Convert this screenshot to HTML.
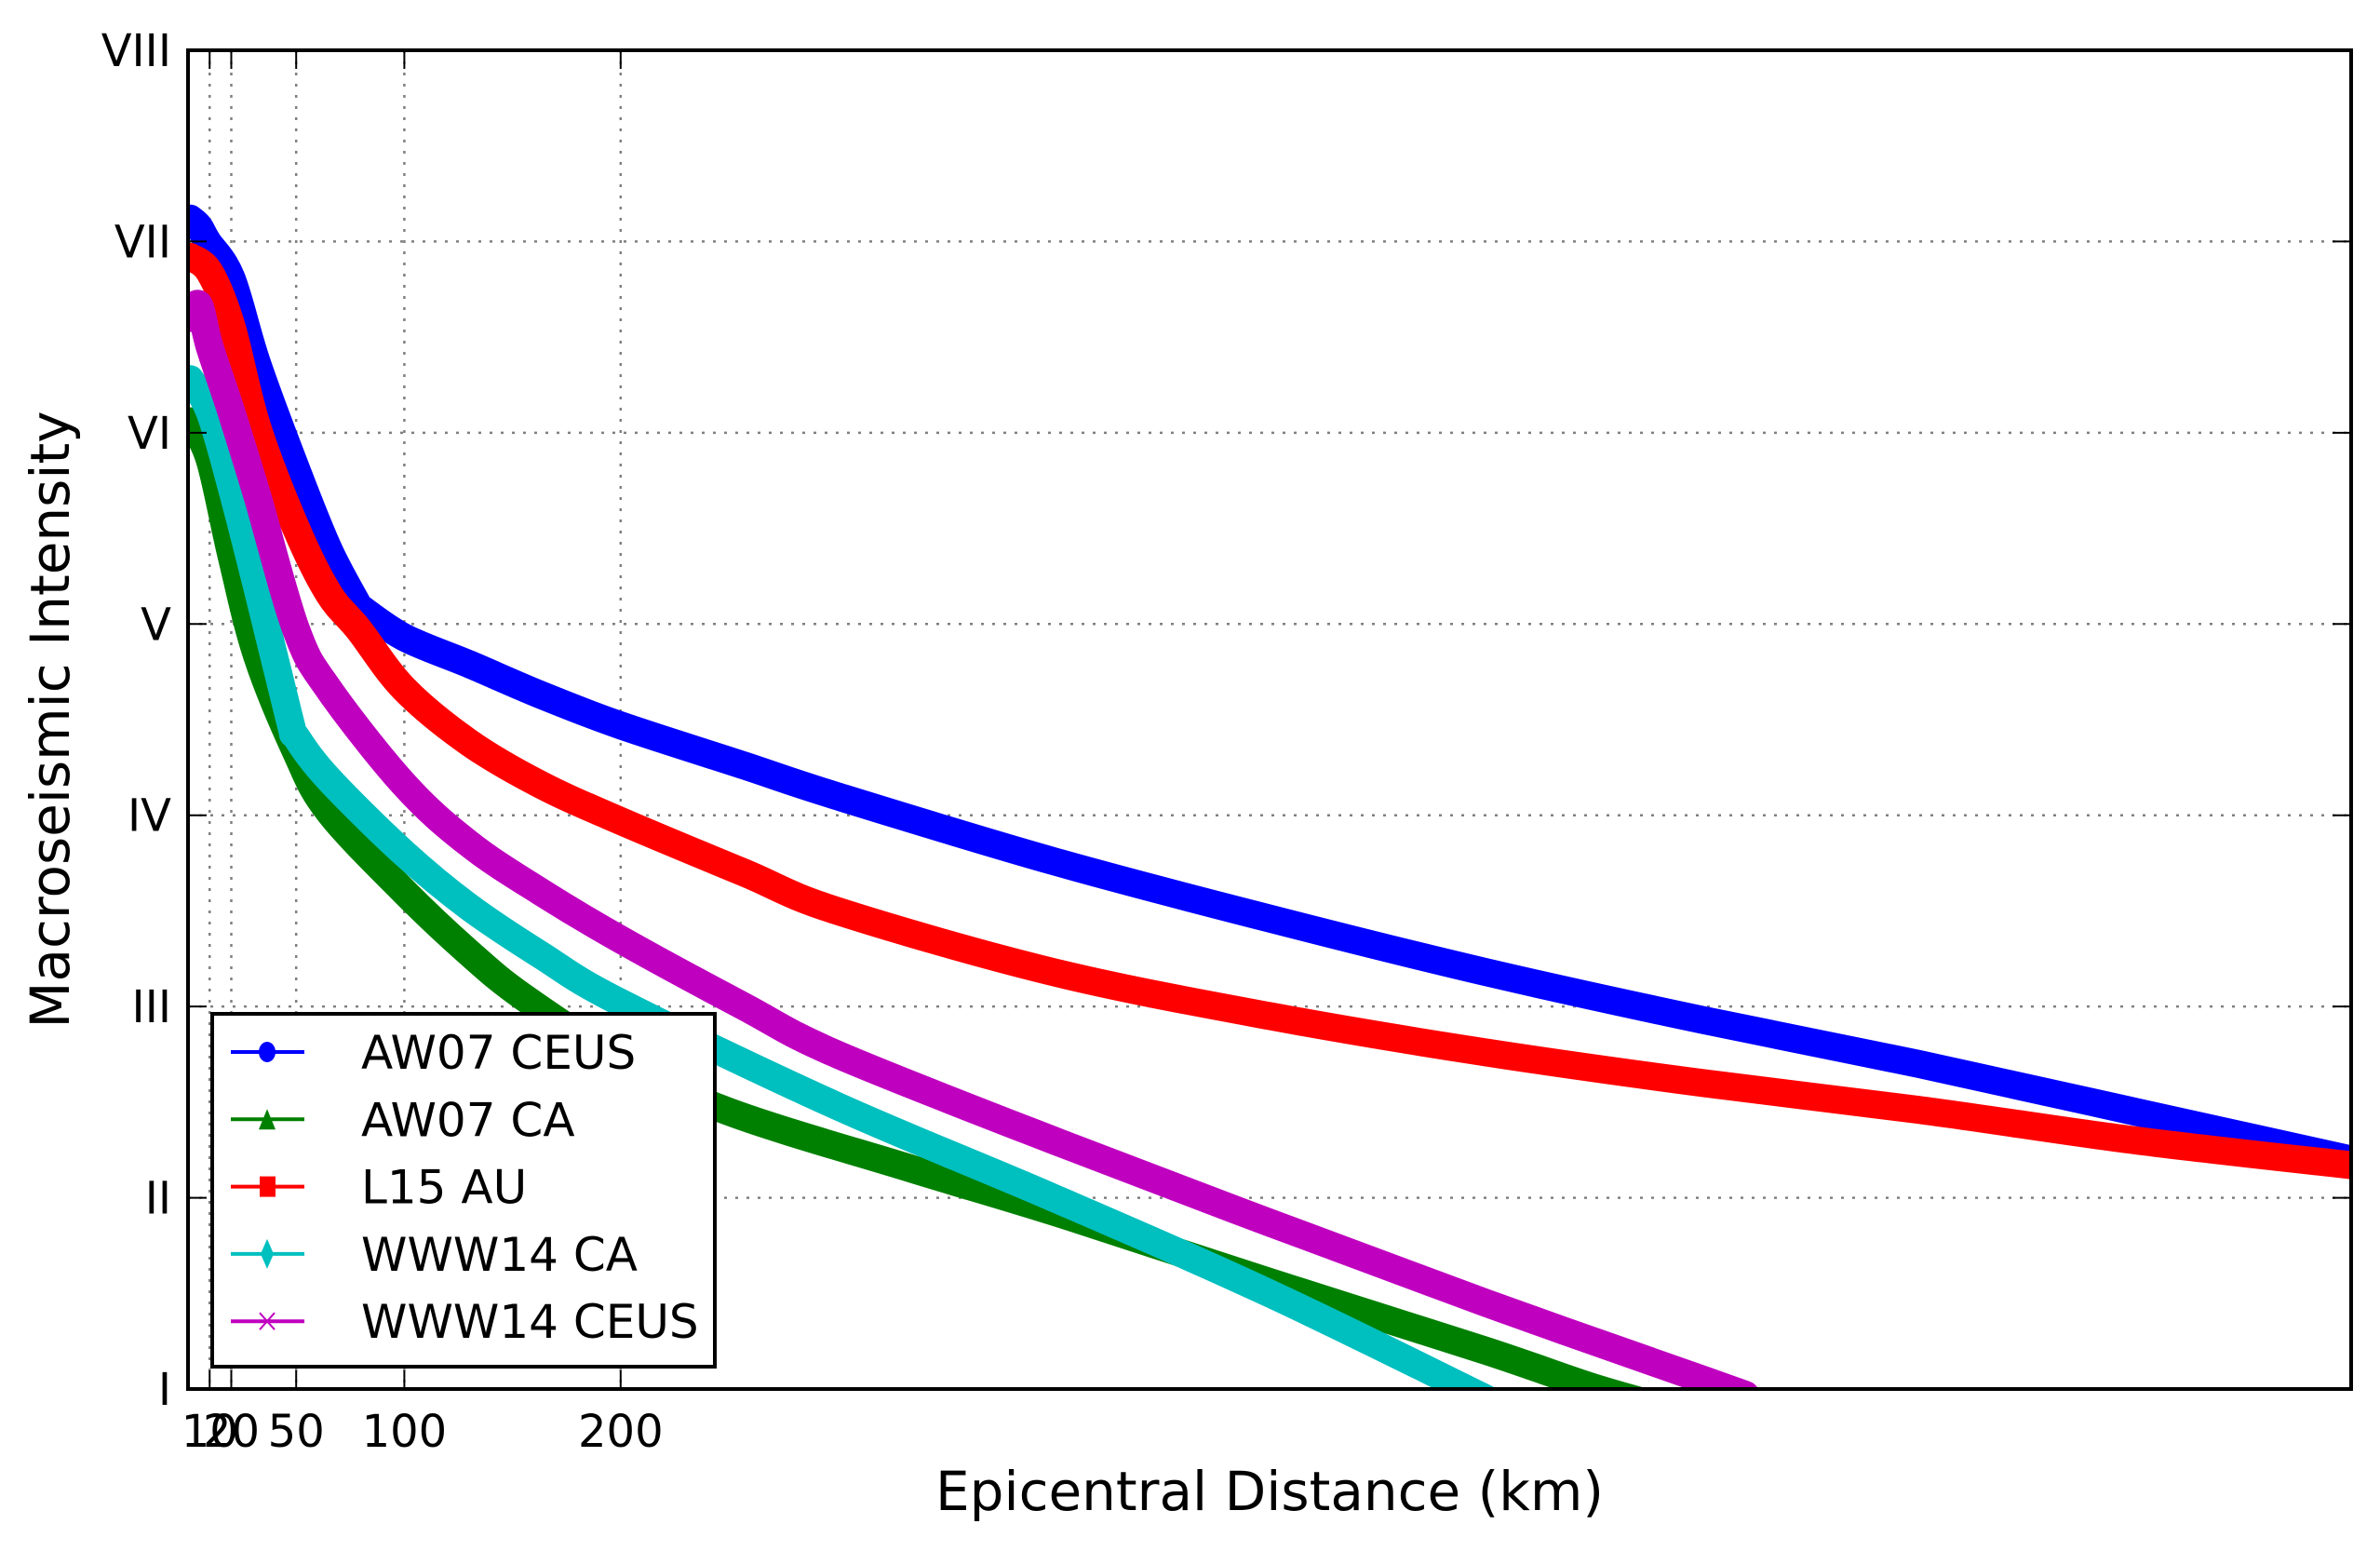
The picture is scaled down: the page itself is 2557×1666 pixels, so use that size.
<!DOCTYPE html>
<html><head><meta charset="utf-8"><style>
html,body{margin:0;padding:0;background:#fff;}
svg{display:block;font-family:"DejaVu Sans","Liberation Sans",sans-serif;}
</style></head><body>
<svg id="chart" width="2557" height="1666" viewBox="0 0 2557 1666" xmlns="http://www.w3.org/2000/svg">
<defs><clipPath id="plotclip"><rect x="202" y="54" width="2324" height="1438"/></clipPath></defs>
<g id="grid"></g>
<g id="series" clip-path="url(#plotclip)"></g>
<rect x="202" y="54" width="2324" height="1438" fill="none" stroke="#000" stroke-width="4"/>
<g id="ticks"></g>
<text x="1364" y="1622" font-size="58" text-anchor="middle">Epicentral Distance (km)</text>
<text transform="translate(74,773) rotate(-90)" font-size="58" text-anchor="middle">Macroseismic Intensity</text>
<g id="legend"></g>
</svg>
<script>
const xTicks = [10, 20, 50, 100, 200];
const xTickLabels = ["10", "20", "50", "100", "200"];
const yTicks = [1, 2, 3, 4, 5, 6, 7, 8];
const yTickLabels = ["I", "II", "III", "IV", "V", "VI", "VII", "VIII"];
const seriesNames = ["AW07 CEUS", "AW07 CA", "L15 AU", "WWW14 CA", "WWW14 CEUS"];
const seriesColors = ["#0000ff", "#008000", "#ff0000", "#00bfbf", "#bf00bf"];
const aw07ceus = [[1,7.12],[5,7.08],[9,7.0],[20,6.81],[32,6.36],[50,5.81],[65,5.39],[79,5.09],[100,4.93],[130,4.79],[163,4.63],[200,4.47],[257,4.26],[300,4.1],[400,3.76],[500,3.46],[600,3.18],[700,2.93],[800,2.7],[900,2.45],[1000,2.2]];
const aw07ca = [[1,6.06],[10,5.86],[20,5.36],[32,4.83],[50,4.33],[65,4.02],[100,3.6],[130,3.28],[155,3.05],[200,2.72],[250,2.45],[335,2.15],[405,1.91],[500,1.56],[600,1.2],[652,1.0],[700,0.85]];
const l15au = [[1,6.92],[10,6.84],[20,6.56],[32,6.03],[50,5.5],[65,5.16],[79,4.97],[100,4.66],[130,4.38],[163,4.16],[200,3.97],[257,3.70],[300,3.5],[400,3.18],[500,2.95],[600,2.76],[700,2.6],[800,2.46],[900,2.3],[1000,2.17]];
const www14ca = [[1,6.28],[10,6.11],[20,5.72],[32,5.19],[47,4.5],[50,4.41],[65,4.19],[100,3.8],[130,3.52],[163,3.27],[200,3.02],[300,2.48],[400,2.0],[500,1.5],[600,0.95]];
const www14ceus = [[1,6.6],[5,6.67],[10,6.45],[20,6.11],[32,5.67],[50,4.97],[65,4.66],[100,4.16],[130,3.85],[163,3.6],[200,3.35],[257,3.0],[300,2.75],[400,2.3],[500,1.87],[600,1.45],[700,1.05],[720,0.97]];
const allSeries = [aw07ceus, aw07ca, l15au, www14ca, www14ceus];
const kinkIndex = [7, -1, -1, -1, -1];

const X0=202, X1=2526, Y0=1492, Y1=54, XMAX=1000, YMIN=1, YMAX=8;
const sx = v => X0 + (v/XMAX)*(X1-X0);
const sy = v => Y0 - (v-YMIN)/(YMAX-YMIN)*(Y0-Y1);
const NS="http://www.w3.org/2000/svg";
function mk(tag, attrs, parent){const e=document.createElementNS(NS,tag);for(const k in attrs)e.setAttribute(k,attrs[k]);parent.appendChild(e);return e;}
function smoothPath(pts, kink){
  let d='M'+pts[0][0].toFixed(1)+','+pts[0][1].toFixed(1);
  for(let i=0;i<pts.length-1;i++){
    const p0=pts[Math.max(i-1,0)], p1=pts[i], p2=pts[i+1], p3=pts[Math.min(i+2,pts.length-1)];
    const a0 = (i===kink)? p1 : p0;
    const a3 = (i+1===kink)? p2 : p3;
    const c1=[p1[0]+(p2[0]-a0[0])/6, p1[1]+(p2[1]-a0[1])/6];
    const c2=[p2[0]-(a3[0]-p1[0])/6, p2[1]-(a3[1]-p1[1])/6];
    d+=` C${c1[0].toFixed(1)},${c1[1].toFixed(1)} ${c2[0].toFixed(1)},${c2[1].toFixed(1)} ${p2[0].toFixed(1)},${p2[1].toFixed(1)}`;
  }
  return d;
}
const grid=document.getElementById('grid'), ticks=document.getElementById('ticks');
xTicks.forEach((t,i)=>{
  const g=mk('line',{x1:sx(t),x2:sx(t),y1:Y1,y2:Y0,stroke:'#808080','stroke-width':2.5,'stroke-dasharray':'3,9'},grid);
  
  
  mk('line',{x1:sx(t),x2:sx(t),y1:Y0,y2:Y0-20,stroke:'#000','stroke-width':2},ticks);
  mk('line',{x1:sx(t),x2:sx(t),y1:Y1,y2:Y1+20,stroke:'#000','stroke-width':2},ticks);
  const tx=mk('text',{x:sx(t),y:1554,'font-size':48,'text-anchor':'middle'},ticks);
  tx.textContent=xTickLabels[i];
  
  
});
yTicks.forEach((t,i)=>{
  if(t>YMIN && t<YMAX){
    const g=mk('line',{x1:X0,x2:X1,y1:sy(t),y2:sy(t),stroke:'#808080','stroke-width':2.5,'stroke-dasharray':'3,9'},grid);
    
    
  }
  mk('line',{x1:X0,x2:X0+20,y1:sy(t),y2:sy(t),stroke:'#000','stroke-width':2},ticks);
  mk('line',{x1:X1,x2:X1-20,y1:sy(t),y2:sy(t),stroke:'#000','stroke-width':2},ticks);
  const tx=mk('text',{x:184,y:sy(t)+17,'font-size':48,'text-anchor':'end'},ticks);
  tx.textContent=yTickLabels[i];
  
  
});
const sg=document.getElementById('series');
allSeries.forEach((s,i)=>{
  const pts=s.map(p=>[sx(p[0]), sy(p[1])]);
  const p=mk('path',{d:smoothPath(pts, kinkIndex[i]),fill:'none',stroke:seriesColors[i],'stroke-width':30,'stroke-linejoin':'round','stroke-linecap':'round'},sg);
  
  
});
const lg=document.getElementById('legend');
const box=mk('rect',{x:228,y:1089,width:540,height:379,fill:'#fff',stroke:'#000','stroke-width':4},lg);


seriesNames.forEach((n,i)=>{
  const y=1130+i*72.3, c=seriesColors[i];
  const ent=mk('g',{},lg);
  
  
  mk('line',{x1:248,x2:327,y1:y,y2:y,stroke:c,'stroke-width':4},ent);
  if(i===0) mk('ellipse',{cx:287,cy:y,rx:9,ry:11,fill:c},ent);
  if(i===1) mk('polygon',{points:`287,${y-11} 278,${y+11} 296,${y+11}`,fill:c},ent);
  if(i===2) mk('rect',{x:279,y:y-11,width:17,height:22,fill:c},ent);
  if(i===3) mk('polygon',{points:`287,${y-16} 294,${y} 287,${y+16} 280,${y}`,fill:c},ent);
  if(i===4){mk('line',{x1:279,y1:y-9,x2:295,y2:y+9,stroke:c,'stroke-width':2},ent);mk('line',{x1:279,y1:y+9,x2:295,y2:y-9,stroke:c,'stroke-width':2},ent);}
  const t=mk('text',{x:388,y:y+18,'font-size':50},ent);
  t.textContent=n;
});
</script>
</body></html>
